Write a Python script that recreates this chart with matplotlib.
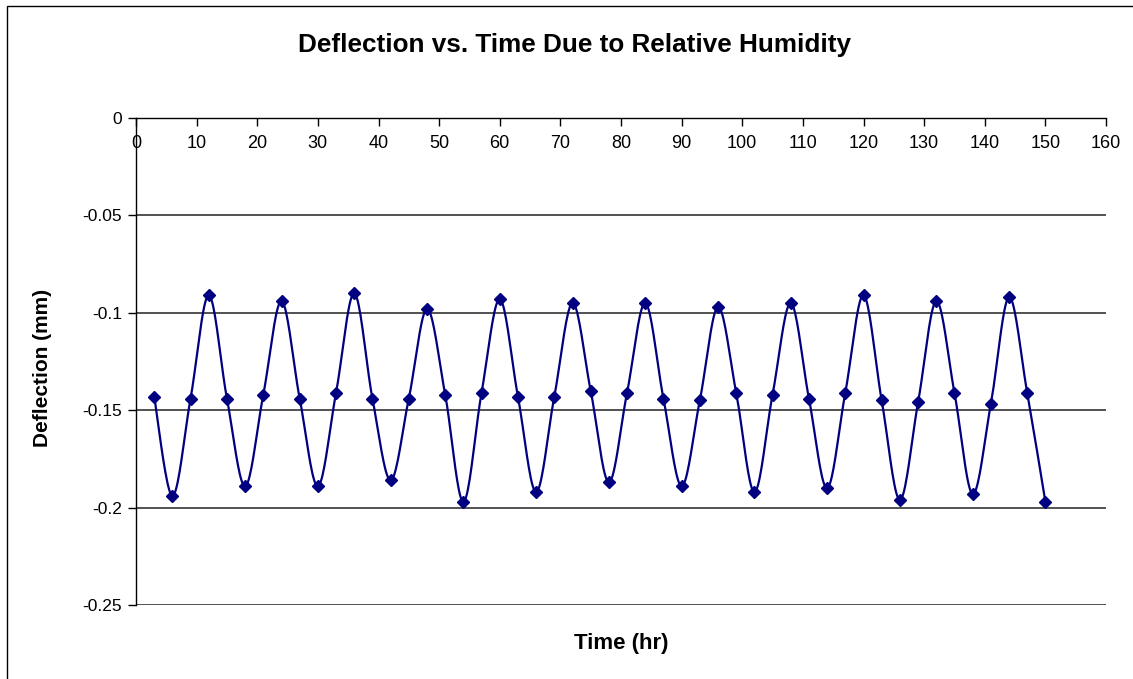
import numpy as np
import matplotlib
matplotlib.use('Agg')
import matplotlib.pyplot as plt
from matplotlib.patches import Rectangle

plt.rcParams['font.family'] = ['Liberation Sans', 'DejaVu Sans']

# Tempo (ore) e deflessione (mm)
time_hr = [3, 6, 9, 12, 15, 18, 21, 24, 27, 30,
           33, 36, 39, 42, 45, 48, 51, 54, 57, 60,
           63, 66, 69, 72, 75, 78, 81, 84, 87, 90,
           93, 96, 99, 102, 105, 108, 111, 114, 117, 120,
           123, 126, 129, 132, 135, 138, 141, 144, 147, 150]
deflection = [-0.143, -0.194, -0.144, -0.091, -0.144, -0.189, -0.142, -0.094, -0.144, -0.189,
              -0.141, -0.090, -0.144, -0.186, -0.144, -0.098, -0.142, -0.197, -0.141, -0.093,
              -0.143, -0.192, -0.143, -0.095, -0.140, -0.187, -0.141, -0.095, -0.144, -0.189,
              -0.145, -0.097, -0.141, -0.192, -0.142, -0.095, -0.144, -0.190, -0.141, -0.091,
              -0.145, -0.196, -0.146, -0.094, -0.141, -0.193, -0.147, -0.092, -0.141, -0.197]

x_ticks = list(range(0, 161, 10))
y_ticks = [0, -0.05, -0.1, -0.15, -0.2, -0.25]
y_tick_labels = ['0', '-0.05', '-0.1', '-0.15', '-0.2', '-0.25']

NAVY = '#000080'


def smooth_line(x, y, n=20):
    # curva Catmull-Rom come la linea "smussata" di Excel
    x = np.asarray(x, float)
    y = np.asarray(y, float)
    px = np.concatenate([[x[0]], x, [x[-1]]])
    py = np.concatenate([[y[0]], y, [y[-1]]])
    xs, ys = [], []
    t = np.linspace(0, 1, n, endpoint=False)
    for i in range(1, len(px) - 2):
        for p, out in ((px, xs), (py, ys)):
            p0, p1, p2, p3 = p[i - 1], p[i], p[i + 1], p[i + 2]
            out.extend(0.5 * ((2 * p1) + (-p0 + p2) * t
                              + (2 * p0 - 5 * p1 + 4 * p2 - p3) * t ** 2
                              + (-p0 + 3 * p1 - 3 * p2 + p3) * t ** 3))
    xs.append(x[-1])
    ys.append(y[-1])
    return np.array(xs), np.array(ys)


W, H = 1133, 679
fig = plt.figure(figsize=(W / 100, H / 100), dpi=100)
ax = fig.add_axes([136 / W, 1 - 605 / H, (1106 - 136) / W, (605 - 118) / H])

# bordo esterno del grafico
fig.patches.append(Rectangle((7 / W, -0.1), 1.2, 1 - 6 / H + 0.1, transform=fig.transFigure,
                             fill=False, ec='black', lw=1.0))

sx, sy = smooth_line(time_hr, deflection)
ax.plot(sx, sy, color=NAVY, lw=1.6, zorder=3)
ax.plot(time_hr, deflection, ls='none', marker='D', ms=6.5, color=NAVY, zorder=4)

ax.set_xlim(0, 160)
ax.set_ylim(-0.25, 0)
ax.set_xticks(x_ticks)
ax.set_yticks(y_ticks)
ax.set_yticklabels(y_tick_labels)

# asse x sulla linea y=0
ax.spines['bottom'].set_position(('data', 0))
ax.spines['top'].set_visible(False)
ax.spines['right'].set_visible(False)
for s in ('bottom', 'left'):
    ax.spines[s].set_linewidth(1.0)
    ax.spines[s].set_color('black')
ax.tick_params(axis='both', direction='out', length=6, width=1, labelsize=12.5, colors='black')
ax.tick_params(axis='x', pad=6, labelsize=13)
ax.tick_params(axis='y', pad=4)
ax.yaxis.grid(True, color='#333333', lw=1.2)
ax.set_axisbelow(True)

fig.text(574 / W, 1 - 45 / H, 'Deflection vs. Time Due to Relative Humidity',
         ha='center', va='center', fontsize=18.8, fontweight='bold')
fig.text(621 / W, 1 - 643 / H, 'Time (hr)', ha='center', va='center',
         fontsize=16, fontweight='bold')
fig.text(43 / W, 1 - 368 / H, 'Deflection (mm)', ha='center', va='center',
         rotation=90, fontsize=15, fontweight='bold')

fig.savefig('out.png', dpi=100)
